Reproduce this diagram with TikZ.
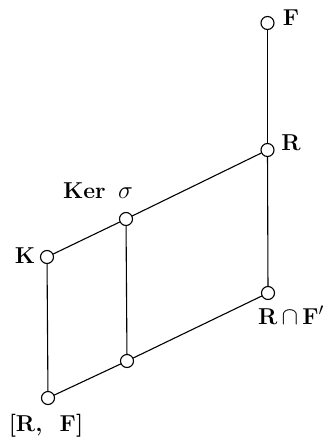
\documentclass[tikz,border=0pt]{standalone}
\usepackage{amsmath,amssymb}
\usepackage{fontspec}
\usepackage{tikz}
\usetikzlibrary{positioning}

\begin{document}
\begin{tikzpicture}[x=1pt,y=-1pt,line cap=round,
  vert/.style={circle,draw,fill=white,line width=1.1pt,minimum size=13pt,inner sep=0pt},
  lab/.style={inner sep=0pt,font=\fontsize{23}{27}\selectfont\bfseries},
  edge/.style={line width=1.1pt}]
\useasboundingbox (0,0) rectangle (324,439);
% vertices
\node[vert] (F) at (267.5,23) {};
\node[vert] (R) at (267.5,150) {};
\node[vert] (RF) at (268,293) {};
\node[vert] (Ker) at (126,219) {};
\node[vert] (Mid) at (127,361) {};
\node[vert] (K) at (47,257) {};
\node[vert] (Com) at (48,398) {};
% labels
\node[lab] (lF) at (291,18) {F};
\node[lab] (lR) at (291,143) {R};
\node[lab] (lKer) at (98,191) {Ker\ \,$\sigma$};
\node[lab] (lK) at (25,256) {K};
\node[lab] (lRF) at (291,315) {R$\,\cap\,$F$'$};
\node[lab] (lCom) at (46,426) {[R,\ \ F]};
% edges
\draw[edge] (F) -- (R);
\draw[edge] (R) -- (RF);
\draw[edge] (R) -- (Ker);
\draw[edge] (Ker) -- (K);
\draw[edge] (Ker) -- (Mid);
\draw[edge] (K) -- (Com);
\draw[edge] (Com) -- (Mid);
\draw[edge] (Mid) -- (RF);
\end{tikzpicture}
\end{document}
